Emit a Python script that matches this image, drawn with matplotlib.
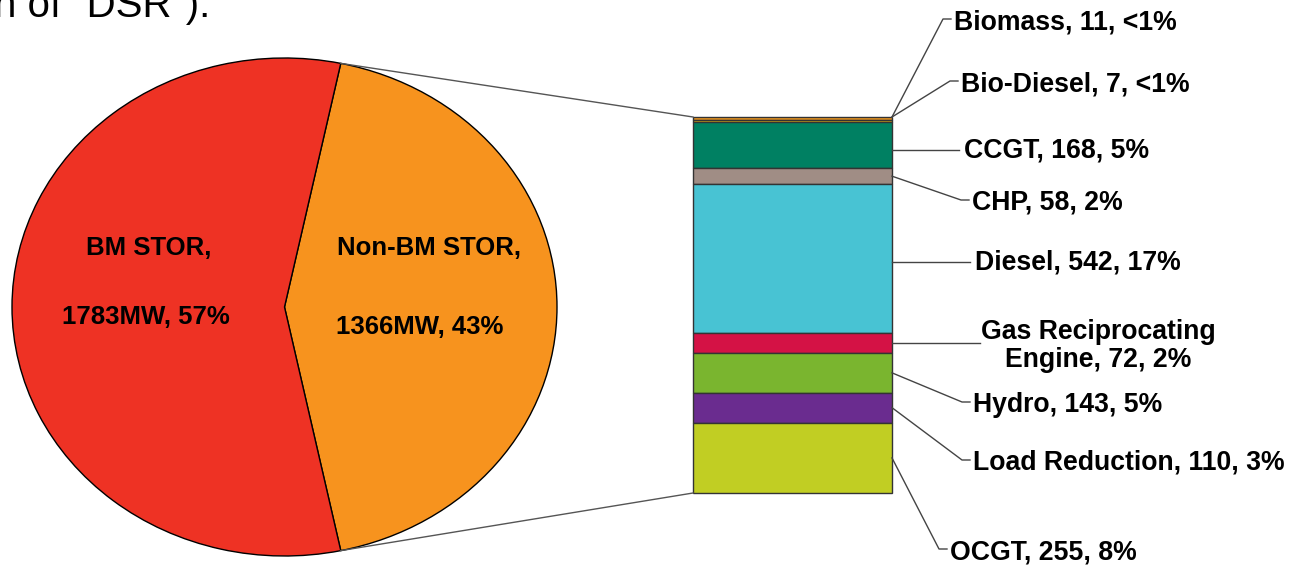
import matplotlib

matplotlib.use("Agg")
import matplotlib.pyplot as plt
import numpy as np

W, H = 1291, 566

# STOR split (pie)
stor_names = ["Non-BM STOR", "BM STOR"]
stor_mw = [1366, 1783]
stor_pct = [43, 57]
stor_colors = ["#F7931E", "#EE3224"]

# Non-BM STOR by technology (stacked bar, top to bottom)
tech_names = [
    "Biomass",
    "Bio-Diesel",
    "CCGT",
    "CHP",
    "Diesel",
    "Gas Reciprocating\nEngine",
    "Hydro",
    "Load Reduction",
    "OCGT",
]
tech_mw = [11, 7, 168, 58, 542, 72, 143, 110, 255]
tech_pct = ["<1%", "<1%", "5%", "2%", "17%", "2%", "5%", "3%", "8%"]
tech_colors = [
    "#F39A1D",
    "#FFC20E",
    "#008062",
    "#A08D85",
    "#48C3D3",
    "#D41245",
    "#7AB52F",
    "#6A2C8F",
    "#C1CE23",
]

# label layout in pixels: (text x, text y, straight leader?)
label_pos = [
    (954, 22, False),
    (961, 84, False),
    (964, 150, True),
    (972, 203, False),
    (975, 262, True),
    (1098, 346, True),
    (973, 405, False),
    (973, 463, False),
    (950, 552, False),
]

FONT = "Liberation Sans"
LBL = 19.2

fig = plt.figure(figsize=(W / 100, H / 100), dpi=100)

# pie (elliptical, as in the source)
ax_pie = fig.add_axes([12 / W, (H - 556) / H, 545 / W, 498 / H])
start = -180.0 * stor_mw[0] / sum(stor_mw)
wedges, _ = ax_pie.pie(
    stor_mw,
    colors=stor_colors,
    startangle=start,
    counterclock=True,
    wedgeprops=dict(edgecolor="black", linewidth=1.0),
)
ax_pie.set_aspect("auto")
ax_pie.set_xlim(-1, 1)
ax_pie.set_ylim(-1, 1)
ax_pie.axis("off")
for w in wedges:
    w.set_clip_on(False)

# stacked bar
ax_bar = fig.add_axes([693 / W, (H - 493) / H, 199 / W, 376 / H])
bottoms = np.concatenate([[0], np.cumsum(tech_mw)[:-1]])
ax_bar.bar(
    0.5,
    tech_mw,
    width=1.0,
    bottom=bottoms,
    color=tech_colors,
    edgecolor="#333333",
    linewidth=1.0,
    clip_on=False,
)
ax_bar.set_xlim(0, 1)
ax_bar.set_ylim(sum(tech_mw), 0)
ax_bar.axis("off")

# overlay in pixel coordinates for text and leader lines
ov = fig.add_axes([0, 0, 1, 1])
ov.set_xlim(0, W)
ov.set_ylim(H, 0)
ov.axis("off")


def to_px(ax, x, y):
    disp = ax.transData.transform((x, y))
    return ov.transData.inverted().transform(disp)


# connectors pie -> bar
th1, th2 = np.deg2rad(wedges[0].theta1), np.deg2rad(wedges[0].theta2)
p_bot = to_px(ax_pie, np.cos(th1), np.sin(th1))
p_top = to_px(ax_pie, np.cos(th2), np.sin(th2))
b_top = to_px(ax_bar, 0, 0)
b_bot = to_px(ax_bar, 0, sum(tech_mw))
ov.plot([p_top[0], b_top[0]], [p_top[1], b_top[1]], color="#555555", lw=1.0)
ov.plot([p_bot[0], b_bot[0]], [p_bot[1], b_bot[1]], color="#555555", lw=1.0)

# pie labels
txt = dict(family=FONT, weight="bold", fontsize=18.5, ha="center", va="center", color="black")
ov.text(149, 248, f"{stor_names[1]},", **txt)
ov.text(146, 317, f"{stor_mw[1]}MW, {stor_pct[1]}%", **txt)
ov.text(429, 248, f"{stor_names[0]},", **txt)
ov.text(420, 327, f"{stor_mw[0]}MW, {stor_pct[0]}%", **txt)

# leaders and technology labels
mids = bottoms + np.array(tech_mw) / 2.0
for i, name in enumerate(tech_names):
    mid = mids[i] if tech_mw[i] > 20 else 0
    ax_, ay_ = to_px(ax_bar, 1, mid)
    tx, ty, straight = label_pos[i]
    label = f"{name}, {tech_mw[i]}, {tech_pct[i]}"
    if "\n" in name:
        ov.plot([ax_, 980], [ay_, ay_], color="#444444", lw=1.0)
        ov.text(tx, ty, label, family=FONT, weight="bold", fontsize=LBL,
                ha="center", va="center", linespacing=1.12)
        continue
    if straight:
        ov.plot([ax_, tx - 5], [ty, ty], color="#444444", lw=1.0)
    else:
        ey = ty - 3
        ov.plot([ax_, tx - 11, tx - 3], [ay_, ey, ey], color="#444444", lw=1.0)
    ov.text(tx, ty, label, family=FONT, weight="bold", fontsize=LBL, ha="left", va="center")

# clipped caption fragment from the page above
ov.text(-6, 17, 'n of "DSR").', family=FONT, fontsize=29, ha="left", va="baseline")

fig.savefig("out.png", dpi=100)
